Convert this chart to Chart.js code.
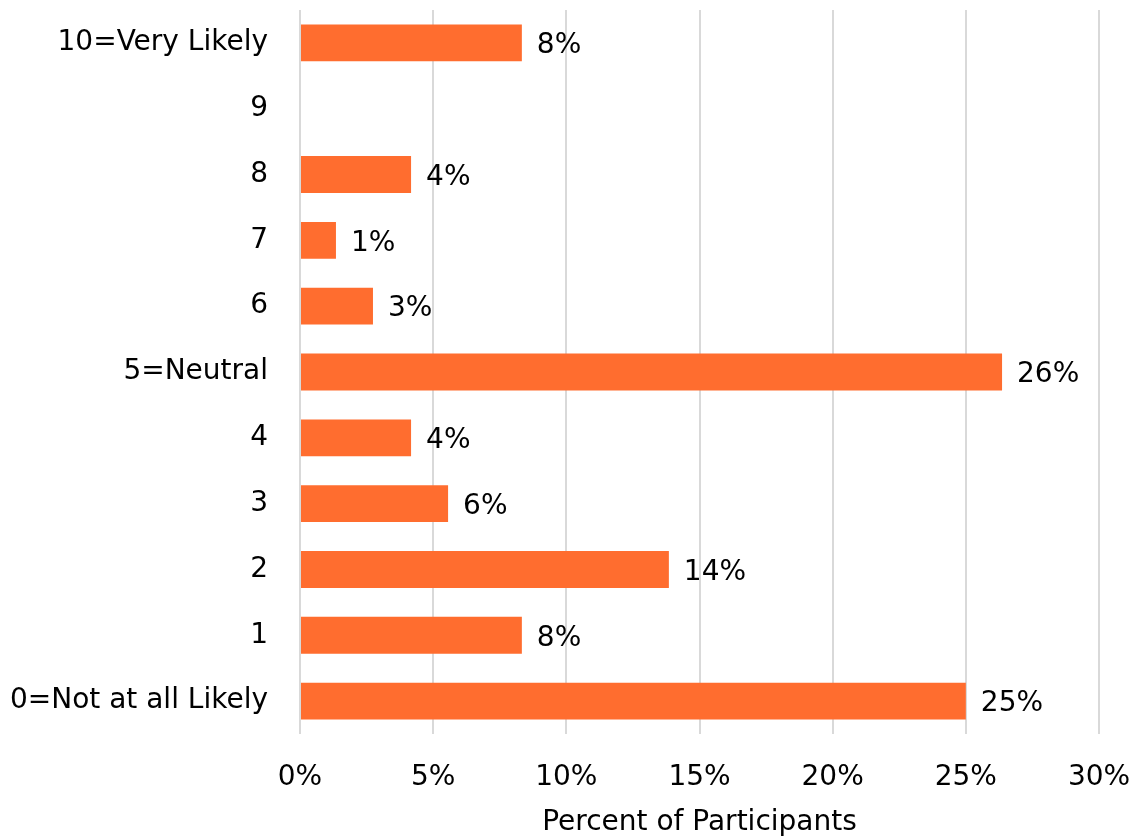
<!DOCTYPE html>
<html>
<head>
<meta charset="utf-8">
<script src="https://cdn.jsdelivr.net/npm/chart.js@4"></script>
<style>
  html, body { margin: 0; padding: 0; background: #fff; }
  #wrap { width: 1135px; height: 840px; }
</style>
</head>
<body>
<div id="wrap"><canvas id="likelyChart"></canvas></div>
<script>
// ===== data (top to bottom) =====
const categories = ['10=Very Likely', '9', '8', '7', '6', '5=Neutral', '4', '3', '2', '1', '0=Not at all Likely'];
const percentValues = [8.33, 0, 4.17, 1.35, 2.74, 26.36, 4.17, 5.56, 13.85, 8.33, 25.0];
const xTicks = [0, 5, 10, 15, 20, 25, 30];
const xTitle = 'Percent of Participants';

const FONT = 'DejaVu Sans';
const FONT_SIZE = 28;
const BAR_COLOR = '#FF6D2F';

// draws "8%" etc to the right of each bar
const valueLabels = {
  id: 'valueLabels',
  afterDatasetsDraw(chart) {
    const { ctx } = chart;
    const meta = chart.getDatasetMeta(0);
    ctx.save();
    ctx.font = `${FONT_SIZE}px "${FONT}"`;
    ctx.fillStyle = '#000';
    ctx.textAlign = 'left';
    ctx.textBaseline = 'middle';
    meta.data.forEach((bar, i) => {
      const v = percentValues[i];
      if (!v) return;
      ctx.fillText(Math.round(v) + '%', bar.x + 15, bar.y + 3);
    });
    ctx.restore();
  }
};

new Chart(document.getElementById('likelyChart'), {
  type: 'bar',
  data: {
    labels: categories,
    datasets: [{
      data: percentValues,
      backgroundColor: BAR_COLOR,
      borderWidth: 0,
      barPercentage: 0.56,
      categoryPercentage: 1.0
    }]
  },
  options: {
    indexAxis: 'y',
    responsive: true,
    maintainAspectRatio: false,
    animation: false,
    layout: { padding: { top: 10, right: 36, bottom: 0, left: 0 } },
    plugins: { legend: { display: false }, tooltip: { enabled: false } },
    scales: {
      x: {
        min: 0, max: 30,
        afterBuildTicks: s => { s.ticks = xTicks.map(v => ({ value: v })); },
        afterFit: s => { s.height = 840 - 734; s.paddingLeft = 0; s.paddingRight = 0; },
        ticks: {
          callback: v => v + '%',
          color: '#000',
          font: { family: FONT, size: FONT_SIZE },
          padding: 27
        },
        grid: { color: '#d9d9d9', lineWidth: 2, drawTicks: false },
        border: { display: false },
        title: {
          display: true, text: xTitle, color: '#000',
          font: { family: FONT, size: FONT_SIZE }, padding: { top: 0, bottom: 0 }
        }
      },
      y: {
        afterFit: s => { s.width = 300; s.paddingTop = 0; s.paddingBottom = 0; },
        ticks: {
          color: '#000',
          font: { family: FONT, size: FONT_SIZE },
          padding: 32
        },
        grid: { display: false, drawTicks: false },
        border: { display: false }
      }
    }
  },
  plugins: [valueLabels]
});
</script>
</body>
</html>
